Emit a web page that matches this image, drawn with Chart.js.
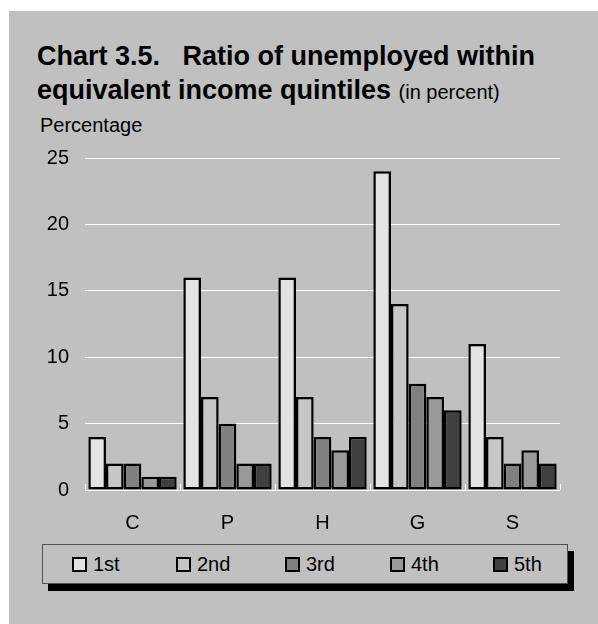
<!DOCTYPE html>
<html>
<head>
<meta charset="utf-8">
<script src="https://cdn.jsdelivr.net/npm/chart.js@4"></script>
<style>
  html, body { margin: 0; padding: 0; background: #ffffff; }
  body { width: 598px; height: 624px; position: relative; overflow: hidden; font-family: Arial, "Liberation Sans", sans-serif; }
  #panel { position: absolute; left: 9px; top: 11px; width: 589px; height: 613px; background: #c0c0c0; }
  #title { position: absolute; left: 37px; top: 39px; font-size: 27px; font-weight: bold; line-height: 34px; color: #000; white-space: pre; }
  #title .sub { font-weight: normal; font-size: 20px; }
  #ylabel { position: absolute; left: 40px; top: 114px; font-size: 20px; color: #000; }
  #chartWrap { position: absolute; left: 0; top: 0; width: 598px; height: 624px; }
  #legendShadow { position: absolute; left: 48px; top: 551px; width: 526px; height: 40px; background: #000; }
  #legend { position: absolute; left: 42px; top: 544px; width: 524px; height: 38px; border: 1px solid #505050; background: #c0c0c0; }
  .item { position: absolute; top: 8px; font-size: 20px; line-height: 22px; color: #000; }
  .swatch { display: inline-block; width: 11px; height: 11px; border: 2px solid #000; vertical-align: -1px; margin-right: 6px; }
</style>
</head>
<body>
<div id="panel"></div>
<div id="title">Chart 3.5.   Ratio of unemployed within
equivalent income quintiles <span class="sub">(in percent)</span></div>
<div id="ylabel">Percentage</div>
<div id="chartWrap"><canvas id="c" width="598" height="624"></canvas></div>
<div id="legendShadow"></div>
<div id="legend"></div>
<script>
// Regions along the x axis
const categories = ['C', 'P', 'H', 'G', 'S'];
// Income quintile series (percent unemployed)
const quintileNames = ['1st', '2nd', '3rd', '4th', '5th'];
const q1 = [4, 16, 16, 24, 11];
const q2 = [2, 7, 7, 14, 4];
const q3 = [2, 5, 4, 8, 2];
const q4 = [1, 2, 3, 7, 3];
const q5 = [1, 2, 4, 6, 2];
const yTicks = [0, 5, 10, 15, 20, 25];

const seriesValues = [q1, q2, q3, q4, q5];
const fills = ['#e3e3e3', '#c6c6c6', '#808080', '#9a9a9a', '#404040'];

const datasets = quintileNames.map((name, i) => ({
  label: name,
  data: seriesValues[i],
  backgroundColor: fills[i],
  borderColor: '#000000',
  borderWidth: 2.5,
  borderSkipped: false,
  categoryPercentage: 0.93,
  barPercentage: 1.0
}));

// Small upward tick marks at category boundaries on the baseline
const boundaryTicks = {
  id: 'boundaryTicks',
  afterDatasetsDraw(chart) {
    const x = chart.scales.x, y = chart.scales.y;
    const ctx = chart.ctx;
    const base = y.getPixelForValue(0);
    const half = (x.getPixelForValue(1) - x.getPixelForValue(0)) / 2;
    ctx.save();
    ctx.strokeStyle = '#ffffff';
    ctx.lineWidth = 1;
    ctx.beginPath();
    for (let i = 0; i <= categories.length; i++) {
      const px = Math.round(x.getPixelForValue(i) - half) + 0.5;
      ctx.moveTo(px, base);
      ctx.lineTo(px, base - 6);
    }
    ctx.stroke();
    ctx.restore();
  }
};

new Chart(document.getElementById('c'), {
  type: 'bar',
  data: { labels: categories, datasets },
  options: {
    responsive: false,
    animation: false,
    events: [],
    layout: { padding: { left: 0, top: 158, right: 38, bottom: 0 } },
    plugins: { legend: { display: false }, tooltip: { enabled: false }, title: { display: false } },
    scales: {
      x: {
        grid: { display: false },
        border: { display: false },
        ticks: { color: '#000', font: { family: 'Arial', size: 20 }, padding: 13 },
        afterFit(s) { s.height = 624 - 490; }
      },
      y: {
        min: 0, max: 25,
        afterBuildTicks(s) { s.ticks = yTicks.map(v => ({ value: v })); },
        grid: { color: '#ffffff', lineWidth: 1, drawTicks: false },
        border: { display: false },
        ticks: { color: '#000', font: { family: 'Arial', size: 20 }, padding: 16 },
        afterFit(s) { s.width = 85; }
      }
    }
  },
  plugins: [boundaryTicks]
});

// Legend items built from the series names and fills
const legend = document.getElementById('legend');
const itemLeft = [29, 133, 242, 347, 450];
quintileNames.forEach((name, i) => {
  const d = document.createElement('div');
  d.className = 'item';
  d.style.left = itemLeft[i] + 'px';
  const sw = document.createElement('span');
  sw.className = 'swatch';
  sw.style.background = fills[i];
  d.appendChild(sw);
  d.appendChild(document.createTextNode(name));
  legend.appendChild(d);
});
</script>
</body>
</html>
